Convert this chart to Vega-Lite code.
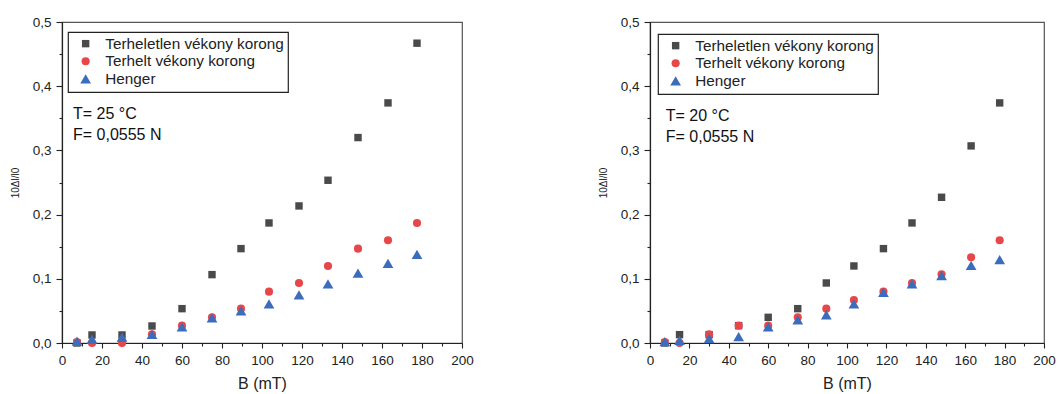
{
  "$schema": "https://vega.github.io/schema/vega-lite/v6.json",
  "padding": {"left": 9, "top": 14, "right": 0, "bottom": 0},
  "background": "white",
  "config": {
    "font": "Liberation Sans",
    "view": {"stroke": "#555555", "strokeWidth": 1.2},
    "axis": {
      "grid": false,
      "domainColor": "#222222",
      "domainWidth": 1.2,
      "tickColor": "#222222",
      "tickWidth": 1.1,
      "tickCount": 100,
      "labelFont": "Liberation Sans",
      "labelFontSize": 13.5,
      "labelColor": "#222222",
      "titleFont": "Liberation Sans",
      "titleFontWeight": "normal",
      "titleColor": "#222222"
    },
    "legend": {
      "orient": "none",
      "title": null,
      "strokeColor": "#222222",
      "strokeWidth": 1.2,
      "padding": 4,
      "labelFont": "Liberation Sans",
      "labelFontSize": 15.3,
      "labelColor": "#222222",
      "labelLimit": 400,
      "labelOffset": 12,
      "symbolOffset": 6,
      "rowPadding": 1.6,
      "symbolStrokeWidth": 0
    }
  },
  "datasets": {
    "meas": [
      {"panel": "25", "series": "Terheletlen vékony korong", "B": 7.5, "v": 0.0},
      {"panel": "25", "series": "Terheletlen vékony korong", "B": 15, "v": 0.0125},
      {"panel": "25", "series": "Terheletlen vékony korong", "B": 30, "v": 0.0125},
      {"panel": "25", "series": "Terheletlen vékony korong", "B": 45, "v": 0.0265},
      {"panel": "25", "series": "Terheletlen vékony korong", "B": 60, "v": 0.0535},
      {"panel": "25", "series": "Terheletlen vékony korong", "B": 75, "v": 0.1065},
      {"panel": "25", "series": "Terheletlen vékony korong", "B": 89.5, "v": 0.147},
      {"panel": "25", "series": "Terheletlen vékony korong", "B": 103.5, "v": 0.187},
      {"panel": "25", "series": "Terheletlen vékony korong", "B": 118.5, "v": 0.2135},
      {"panel": "25", "series": "Terheletlen vékony korong", "B": 133, "v": 0.2535},
      {"panel": "25", "series": "Terheletlen vékony korong", "B": 148, "v": 0.32},
      {"panel": "25", "series": "Terheletlen vékony korong", "B": 163, "v": 0.374},
      {"panel": "25", "series": "Terheletlen vékony korong", "B": 177.5, "v": 0.467},
      {"panel": "25", "series": "Terhelt vékony korong", "B": 7.5, "v": 0.0015},
      {"panel": "25", "series": "Terhelt vékony korong", "B": 15, "v": 0.0},
      {"panel": "25", "series": "Terhelt vékony korong", "B": 30, "v": 0.0},
      {"panel": "25", "series": "Terhelt vékony korong", "B": 45, "v": 0.0135},
      {"panel": "25", "series": "Terhelt vékony korong", "B": 60, "v": 0.027},
      {"panel": "25", "series": "Terhelt vékony korong", "B": 75, "v": 0.04},
      {"panel": "25", "series": "Terhelt vékony korong", "B": 89.5, "v": 0.0535},
      {"panel": "25", "series": "Terhelt vékony korong", "B": 103.5, "v": 0.08},
      {"panel": "25", "series": "Terhelt vékony korong", "B": 118.5, "v": 0.0935},
      {"panel": "25", "series": "Terhelt vékony korong", "B": 133, "v": 0.12},
      {"panel": "25", "series": "Terhelt vékony korong", "B": 148, "v": 0.147},
      {"panel": "25", "series": "Terhelt vékony korong", "B": 163, "v": 0.16},
      {"panel": "25", "series": "Terhelt vékony korong", "B": 177.5, "v": 0.187},
      {"panel": "25", "series": "Henger", "B": 7.5, "v": 0.003},
      {"panel": "25", "series": "Henger", "B": 15, "v": 0.006},
      {"panel": "25", "series": "Henger", "B": 30, "v": 0.009},
      {"panel": "25", "series": "Henger", "B": 45, "v": 0.0135},
      {"panel": "25", "series": "Henger", "B": 60, "v": 0.025},
      {"panel": "25", "series": "Henger", "B": 75, "v": 0.039},
      {"panel": "25", "series": "Henger", "B": 89.5, "v": 0.05},
      {"panel": "25", "series": "Henger", "B": 103.5, "v": 0.061},
      {"panel": "25", "series": "Henger", "B": 118.5, "v": 0.075},
      {"panel": "25", "series": "Henger", "B": 133, "v": 0.092},
      {"panel": "25", "series": "Henger", "B": 148, "v": 0.109},
      {"panel": "25", "series": "Henger", "B": 163, "v": 0.124},
      {"panel": "25", "series": "Henger", "B": 177.5, "v": 0.138},
      {"panel": "20", "series": "Terheletlen vékony korong", "B": 7.5, "v": 0.0},
      {"panel": "20", "series": "Terheletlen vékony korong", "B": 15, "v": 0.013},
      {"panel": "20", "series": "Terheletlen vékony korong", "B": 30, "v": 0.013},
      {"panel": "20", "series": "Terheletlen vékony korong", "B": 45, "v": 0.027},
      {"panel": "20", "series": "Terheletlen vékony korong", "B": 60, "v": 0.04},
      {"panel": "20", "series": "Terheletlen vékony korong", "B": 75, "v": 0.0535},
      {"panel": "20", "series": "Terheletlen vékony korong", "B": 89.5, "v": 0.0935},
      {"panel": "20", "series": "Terheletlen vékony korong", "B": 103.5, "v": 0.12},
      {"panel": "20", "series": "Terheletlen vékony korong", "B": 118.5, "v": 0.147},
      {"panel": "20", "series": "Terheletlen vékony korong", "B": 133, "v": 0.187},
      {"panel": "20", "series": "Terheletlen vékony korong", "B": 148, "v": 0.227},
      {"panel": "20", "series": "Terheletlen vékony korong", "B": 163, "v": 0.307},
      {"panel": "20", "series": "Terheletlen vékony korong", "B": 177.5, "v": 0.374},
      {"panel": "20", "series": "Terhelt vékony korong", "B": 7.5, "v": 0.0015},
      {"panel": "20", "series": "Terhelt vékony korong", "B": 15, "v": 0.0},
      {"panel": "20", "series": "Terhelt vékony korong", "B": 30, "v": 0.0135},
      {"panel": "20", "series": "Terhelt vékony korong", "B": 45, "v": 0.027},
      {"panel": "20", "series": "Terhelt vékony korong", "B": 60, "v": 0.027},
      {"panel": "20", "series": "Terhelt vékony korong", "B": 75, "v": 0.04},
      {"panel": "20", "series": "Terhelt vékony korong", "B": 89.5, "v": 0.0535},
      {"panel": "20", "series": "Terhelt vékony korong", "B": 103.5, "v": 0.067},
      {"panel": "20", "series": "Terhelt vékony korong", "B": 118.5, "v": 0.08},
      {"panel": "20", "series": "Terhelt vékony korong", "B": 133, "v": 0.0935},
      {"panel": "20", "series": "Terhelt vékony korong", "B": 148, "v": 0.107},
      {"panel": "20", "series": "Terhelt vékony korong", "B": 163, "v": 0.1335},
      {"panel": "20", "series": "Terhelt vékony korong", "B": 177.5, "v": 0.16},
      {"panel": "20", "series": "Henger", "B": 7.5, "v": 0.002},
      {"panel": "20", "series": "Henger", "B": 15, "v": 0.004},
      {"panel": "20", "series": "Henger", "B": 30, "v": 0.007},
      {"panel": "20", "series": "Henger", "B": 45, "v": 0.01},
      {"panel": "20", "series": "Henger", "B": 60, "v": 0.025},
      {"panel": "20", "series": "Henger", "B": 75, "v": 0.036},
      {"panel": "20", "series": "Henger", "B": 89.5, "v": 0.044},
      {"panel": "20", "series": "Henger", "B": 103.5, "v": 0.061},
      {"panel": "20", "series": "Henger", "B": 118.5, "v": 0.079},
      {"panel": "20", "series": "Henger", "B": 133, "v": 0.092},
      {"panel": "20", "series": "Henger", "B": 148, "v": 0.105},
      {"panel": "20", "series": "Henger", "B": 163, "v": 0.121},
      {"panel": "20", "series": "Henger", "B": 177.5, "v": 0.13}
    ]
  },
  "spacing": 123,
  "resolve": {
    "scale": {"color": "independent", "shape": "independent", "size": "independent"},
    "legend": {"color": "independent", "shape": "independent", "size": "independent"}
  },
  "hconcat": [
    {
      "width": 400,
      "height": 321,
      "layer": [
        {
          "data": {"name": "meas"},
          "transform": [{"filter": "datum.panel === '25'"}],
          "mark": {"type": "point", "filled": true, "opacity": 1},
          "encoding": {
            "x": {
              "field": "B", "type": "quantitative",
              "scale": {"domain": [0, 200], "nice": false},
              "axis": {
                "title": "B (mT)", "titleFontSize": 16, "titlePadding": 9,
                "values": [0,10,20,30,40,50,60,70,80,90,100,110,120,130,140,150,160,170,180,190,200],
                "labelExpr": "datum.value % 20 === 0 ? datum.label : ''",
                "labelPadding": 5,
                "tickSize": {"condition": {"test": "datum.value % 20 === 0", "value": 5}, "value": 3},
                "labelFlush": false, "labelOverlap": false
              }
            },
            "y": {
              "field": "v", "type": "quantitative",
              "scale": {"domain": [0, 0.5], "nice": false},
              "axis": {
                "title": "10Δl/l0", "titleFontSize": 10, "titlePadding": 12,
                "values": [0,0.05,0.1,0.15,0.2,0.25,0.3,0.35,0.4,0.45,0.5],
                "labelExpr": "round(datum.value*100) % 10 === 0 ? replace(format(datum.value, '.1f'), '.', ',') : ''",
                "labelPadding": 5,
                "tickSize": {"condition": {"test": "round(datum.value*100) % 10 === 0", "value": 6}, "value": 3},
                "labelFlush": false, "labelOverlap": false
              }
            },
            "color": {
              "field": "series", "type": "nominal",
              "scale": {"domain": ["Terheletlen vékony korong", "Terhelt vékony korong", "Henger"], "range": ["#4a4a4a", "#e8474a", "#3b6dbc"]},
              "legend": {"legendX": 6, "legendY": 10}
            },
            "shape": {
              "field": "series", "type": "nominal",
              "scale": {"domain": ["Terheletlen vékony korong", "Terhelt vékony korong", "Henger"], "range": ["square", "circle", "triangle-up"]},
              "legend": {"legendX": 6, "legendY": 10}
            },
            "size": {
              "field": "series", "type": "nominal",
              "scale": {"type": "ordinal", "domain": ["Terheletlen vékony korong", "Terhelt vékony korong", "Henger"], "range": [55, 66, 115]},
              "legend": {"legendX": 6, "legendY": 10}
            }
          }
        },
        {
          "data": {"values": [{}]},
          "mark": {"type": "text", "text": ["T= 25 °C", "F= 0,0555 N"], "align": "left", "baseline": "alphabetic", "fontSize": 16, "lineHeight": 21, "font": "Liberation Sans", "color": "#111111"},
          "encoding": {
            "x": {"datum": 5.5, "type": "quantitative"},
            "y": {"datum": 0.349, "type": "quantitative"}
          }
        }
      ]
    },
    {
      "width": 394,
      "height": 321,
      "layer": [
        {
          "data": {"name": "meas"},
          "transform": [{"filter": "datum.panel === '20'"}],
          "mark": {"type": "point", "filled": true, "opacity": 1},
          "encoding": {
            "x": {
              "field": "B", "type": "quantitative",
              "scale": {"domain": [0, 200], "nice": false},
              "axis": {
                "title": "B (mT)", "titleFontSize": 16, "titlePadding": 9,
                "values": [0,10,20,30,40,50,60,70,80,90,100,110,120,130,140,150,160,170,180,190,200],
                "labelExpr": "datum.value % 20 === 0 ? datum.label : ''",
                "labelPadding": 5,
                "tickSize": {"condition": {"test": "datum.value % 20 === 0", "value": 5}, "value": 3},
                "labelFlush": false, "labelOverlap": false
              }
            },
            "y": {
              "field": "v", "type": "quantitative",
              "scale": {"domain": [0, 0.5], "nice": false},
              "axis": {
                "title": "10Δl/l0", "titleFontSize": 10, "titlePadding": 12,
                "values": [0,0.05,0.1,0.15,0.2,0.25,0.3,0.35,0.4,0.45,0.5],
                "labelExpr": "round(datum.value*100) % 10 === 0 ? replace(format(datum.value, '.1f'), '.', ',') : ''",
                "labelPadding": 5,
                "tickSize": {"condition": {"test": "round(datum.value*100) % 10 === 0", "value": 6}, "value": 3},
                "labelFlush": false, "labelOverlap": false
              }
            },
            "color": {
              "field": "series", "type": "nominal",
              "scale": {"domain": ["Terheletlen vékony korong", "Terhelt vékony korong", "Henger"], "range": ["#4a4a4a", "#e8474a", "#3b6dbc"]},
              "legend": {"legendX": 8, "legendY": 12}
            },
            "shape": {
              "field": "series", "type": "nominal",
              "scale": {"domain": ["Terheletlen vékony korong", "Terhelt vékony korong", "Henger"], "range": ["square", "circle", "triangle-up"]},
              "legend": {"legendX": 8, "legendY": 12}
            },
            "size": {
              "field": "series", "type": "nominal",
              "scale": {"type": "ordinal", "domain": ["Terheletlen vékony korong", "Terhelt vékony korong", "Henger"], "range": [55, 66, 115]},
              "legend": {"legendX": 8, "legendY": 12}
            }
          }
        },
        {
          "data": {"values": [{}]},
          "mark": {"type": "text", "text": ["T= 20 °C", "F= 0,0555 N"], "align": "left", "baseline": "alphabetic", "fontSize": 16, "lineHeight": 21, "font": "Liberation Sans", "color": "#111111"},
          "encoding": {
            "x": {"datum": 8, "type": "quantitative"},
            "y": {"datum": 0.3458, "type": "quantitative"}
          }
        }
      ]
    }
  ]
}
